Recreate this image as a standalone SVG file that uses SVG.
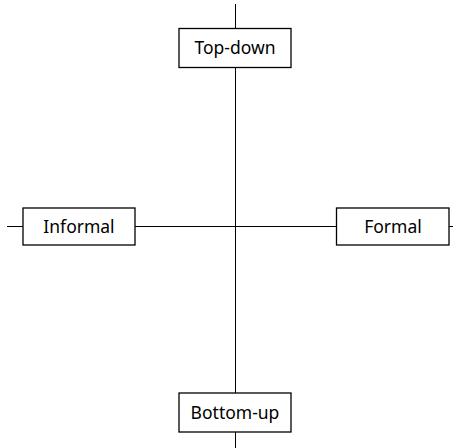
<svg xmlns="http://www.w3.org/2000/svg" width="453" height="448" viewBox="0 0 453 448">
<style>
.box{fill:#fff;stroke:#000;stroke-width:1.3}
.edge{stroke:#000;stroke-width:1;fill:none}
text{font-family:"Noto Sans","DejaVu Sans",sans-serif;font-size:17.5px;fill:#000;text-anchor:middle;dominant-baseline:central}
</style>
<rect width="453" height="448" fill="#fff"/>
<g id="connectors">
<line class="edge" x1="235.5" y1="4" x2="235.5" y2="448"/>
<line class="edge" x1="7" y1="226.5" x2="453" y2="226.5"/>
</g>
<g id="top-down">
<rect class="box" x="179" y="28.5" width="112" height="39"/>
<text x="235" y="47">Top-down</text>
</g>
<g id="informal">
<rect class="box" x="23" y="208" width="112" height="37"/>
<text x="79" y="225.5">Informal</text>
</g>
<g id="formal">
<rect class="box" x="336.5" y="208" width="112.5" height="37"/>
<text x="393" y="225.5">Formal</text>
</g>
<g id="bottom-up">
<rect class="box" x="179" y="393" width="112" height="39"/>
<text x="235" y="411.5">Bottom-up</text>
</g>
</svg>
